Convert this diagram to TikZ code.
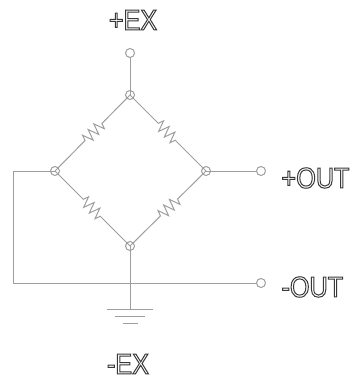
\documentclass[tikz,border=0pt]{standalone}
\usepackage{fontspec}
\usepackage{tikz}
\usetikzlibrary{decorations.pathmorphing}
\setmainfont[FakeStretch=0.87]{Liberation Sans}

\definecolor{wirecol}{gray}{0.62}
\definecolor{labelcol}{gray}{0.22}
\newcommand{\hollowtext}[1]{\special{pdf:code 1 Tr 1 w}#1\special{pdf:code 0 Tr 1 w}}

\begin{document}
\begin{tikzpicture}[x=1pt,y=-1pt,line width=1pt,wirecol,
      junction/.style={circle,draw=wirecol,inner sep=0pt,minimum size=9pt},
      terminal/.style={circle,draw=wirecol,fill=white,inner sep=0pt,minimum size=9pt},
      lbl/.style={inner sep=0pt,text=labelcol,font=\fontsize{29}{29}\selectfont},
      res/.style={decorate,decoration={zigzag,segment length=8pt,amplitude=5.5pt,pre length=40pt,post length=40pt}}]

    \useasboundingbox (0,0) rectangle (352,379);

    \node[junction] (T) at (130,95) {};
    \node[junction] (L) at (55,171) {};
    \node[junction] (R) at (206,171) {};
    \node[junction] (B) at (130,246) {};

    \node[terminal] (EXP) at (130,53) {};
    \node[terminal] (OUTP) at (261,171) {};
    \node[terminal] (OUTN) at (261,283) {};

    \coordinate (C) at (13,283);
    \coordinate (G) at (130,309);

    \node[lbl] (LEXP) at (133,20) {\hollowtext{+EX}};
    \node[lbl] (LEXN) at (128,364) {\hollowtext{-EX}};
    \node[lbl,anchor=west] (LOUTP) at (281,178) {\hollowtext{+OUT}};
    \node[lbl,anchor=west] (LOUTN) at (281,287) {\hollowtext{-OUT}};

    \draw[res] (T.center) -- (L.center);
    \draw[res] (T.center) -- (R.center);
    \draw[res] (L.center) -- (B.center);
    \draw[res] (R.center) -- (B.center);

    \draw (EXP) -- (T.center);
    \draw (R.center) -- (OUTP);
    \draw (L.center) -| (C) -- (OUTN);
    \draw (B.center) -- (G);

    % ground plates
    \draw ([xshift=-23pt]G) -- ([xshift=23pt]G);
    \draw ([xshift=-15pt,yshift=-7pt]G) -- ([xshift=15pt,yshift=-7pt]G);
    \draw ([xshift=-7.5pt,yshift=-14pt]G) -- ([xshift=7.5pt,yshift=-14pt]G);

\end{tikzpicture}
\end{document}
